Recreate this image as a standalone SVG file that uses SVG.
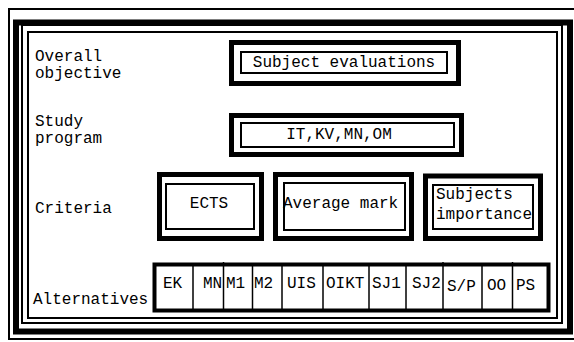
<svg xmlns="http://www.w3.org/2000/svg" width="574" height="342" viewBox="0 0 574 342">
<style>
text{font-family:"Liberation Mono","DejaVu Sans Mono",monospace;font-size:16px;fill:#000}
.thin{fill:none;stroke:#000;stroke-width:2}
.thick{fill:none;stroke:#000;stroke-width:5}
.div{stroke:#000;stroke-width:1.5}
.mid{text-anchor:middle}
</style>
<rect width="574" height="342" fill="#fff"/>
<g id="frame">
<rect class="thin" x="9" y="9" width="575" height="330"/>
<rect class="thick" x="16" y="22.5" width="554" height="309" style="stroke-width:6"/>
<rect class="thin" x="22" y="25" width="540" height="298"/>
<rect class="thin" x="28" y="32" width="529" height="286"/>
</g>
<g id="labels">
<text x="35" y="61">Overall</text>
<text x="35" y="78">objective</text>
<text x="35" y="126">Study</text>
<text x="35" y="143">program</text>
<text x="35" y="213">Criteria</text>
<text x="33" y="304">Alternatives</text>
</g>
<g id="objective">
<rect class="thick" x="231.5" y="42.5" width="227" height="41"/>
<rect class="thin" x="241" y="52" width="206" height="21"/>
<text class="mid" x="344" y="67">Subject evaluations</text>
</g>
<g id="program">
<rect class="thick" x="231.5" y="115.5" width="230" height="39"/>
<rect class="thin" x="241" y="123" width="213" height="24"/>
<text class="mid" x="339" y="139">IT,KV,MN,OM</text>
</g>
<g id="ects">
<rect class="thick" x="159.5" y="174.5" width="102" height="64"/>
<rect class="thin" x="166" y="184" width="88" height="45"/>
<text class="mid" x="209" y="208">ECTS</text>
</g>
<g id="average">
<rect class="thick" x="275.5" y="174.5" width="136" height="64"/>
<rect class="thin" x="284" y="183" width="121" height="47"/>
<text x="283" y="208">Average mark</text>
</g>
<g id="importance">
<rect class="thick" x="425.5" y="176" width="115" height="62.5"/>
<rect class="thin" x="433" y="185" width="100" height="44"/>
<text x="436" y="199">Subjects</text>
<text x="436" y="219">importance</text>
</g>
<g id="alternatives">
<rect class="thick" x="154.5" y="264.5" width="394" height="46" style="stroke-width:4"/>
<g class="div">
<line x1="193" y1="264" x2="193" y2="310"/>
<line x1="223.5" y1="262" x2="223.5" y2="310"/>
<line x1="252.5" y1="264" x2="252.5" y2="310"/>
<line x1="282" y1="264" x2="282" y2="310"/>
<line x1="323" y1="264" x2="323" y2="310"/>
<line x1="369" y1="264" x2="369" y2="310"/>
<line x1="406" y1="264" x2="406" y2="310"/>
<line x1="443" y1="262" x2="443" y2="310"/>
<line x1="482" y1="264" x2="482" y2="310"/>
<line x1="512.5" y1="262" x2="512.5" y2="310"/>
</g>
<text x="163" y="288">EK</text>
<text x="203" y="288">MN</text>
<text x="226" y="288">M1</text>
<text x="254" y="288">M2</text>
<text x="287" y="288">UIS</text>
<text x="326" y="288">OIKT</text>
<text x="372" y="288">SJ1</text>
<text x="412" y="288">SJ2</text>
<text x="447" y="291">S/P</text>
<text x="487" y="290">OO</text>
<text x="516" y="290">PS</text>
</g>
</svg>
